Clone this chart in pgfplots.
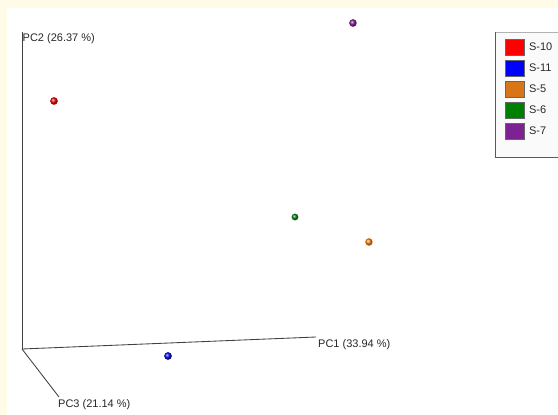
\documentclass[border=0pt]{standalone}
\usepackage{pgfplots}
\pgfplotsset{compat=1.18}
\usepackage{fontspec}
\setmainfont{Liberation Sans}
\definecolor{cream}{RGB}{255,251,230}
\definecolor{pred}{RGB}{225,10,10}
\definecolor{pblue}{RGB}{10,10,220}
\definecolor{porange}{RGB}{240,130,25}
\definecolor{pgreen}{RGB}{10,125,20}
\definecolor{ppurple}{RGB}{125,35,145}
\definecolor{txt}{RGB}{40,40,40}
\begin{document}
\begin{tikzpicture}
\path[use as bounding box, clip] (0,0) rectangle (558pt,415pt);
\fill[cream] (0,0) rectangle (558pt,415pt);
\fill[white] (7pt,0) rectangle (558pt,407pt);
\begin{axis}[
  at={(0,0)}, anchor=south west,
  scale only axis, width=558pt, height=415pt,
  xmin=0, xmax=558, ymin=0, ymax=415, y dir=reverse,
  hide axis, clip=false,
  legend style={at={(axis cs:505,39)}, anchor=north west,
    fill=none, draw=none, font=\fontsize{11}{12}\selectfont\color{txt},
    inner sep=0pt, row sep=4.5pt, column sep=4pt,
    nodes={inner sep=0.5pt}},
  legend cell align=left,
  legend image code/.code={\draw[#1, draw=black!60] (0pt,-8pt) rectangle (19pt,8pt);},
]
\fill[black!2] (axis cs:495.5,32) rectangle (axis cs:575,157);
\draw[black!65, line width=0.9pt] (axis cs:495.5,32) -- (axis cs:495.5,157) -- (axis cs:575,157);
\draw[black!30, line width=0.6pt] (axis cs:495.5,32) -- (axis cs:575,32);
\addplot[black!75, line width=0.85pt, forget plot] coordinates {(22,32) (22,349)};
\addplot[black!75, line width=0.85pt, forget plot] coordinates {(22,349) (316,337)};
\addplot[black!75, line width=0.85pt, forget plot] coordinates {(22,349) (59,397)};
\addplot[only marks, mark=ball, mark size=3.6pt, ball color=pred, color=pred, forget plot] coordinates {(54,101)};
\addplot[only marks, mark=ball, mark size=3.6pt, ball color=pblue, color=pblue, forget plot] coordinates {(168,356)};
\addplot[only marks, mark=ball, mark size=3.6pt, ball color=porange, color=porange, forget plot] coordinates {(369,242)};
\addplot[only marks, mark=ball, mark size=3.2pt, ball color=pgreen, color=pgreen, forget plot] coordinates {(295,217)};
\addplot[only marks, mark=ball, mark size=3.6pt, ball color=ppurple, color=ppurple, forget plot] coordinates {(353,23)};
\addlegendimage{fill=red}
\addlegendentry{S-10}
\addlegendimage{fill=blue}
\addlegendentry{S-11}
\addlegendimage{fill=porange!90!black}
\addlegendentry{S-5}
\addlegendimage{fill=green!50!black}
\addlegendentry{S-6}
\addlegendimage{fill=ppurple}
\addlegendentry{S-7}
\node[anchor=west, inner sep=0pt, font=\fontsize{11}{12}\selectfont, text=txt] at (axis cs:22.5,39) {PC2 (26.37 \%)};
\node[anchor=west, inner sep=0pt, font=\fontsize{11}{12}\selectfont, text=txt] at (axis cs:318,345) {PC1 (33.94 \%)};
\node[anchor=west, inner sep=0pt, font=\fontsize{11}{12}\selectfont, text=txt] at (axis cs:58,405) {PC3 (21.14 \%)};
\end{axis}
\end{tikzpicture}
\end{document}
